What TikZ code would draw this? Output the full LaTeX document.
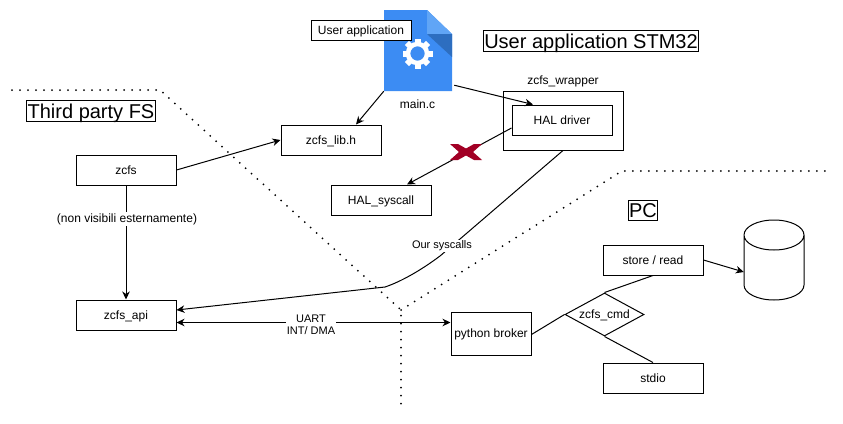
\documentclass[tikz,border=0pt]{standalone}
\usepackage{fontspec}
\setmainfont{Liberation Sans}
\usetikzlibrary{positioning,arrows.meta,shapes.geometric}

\begin{document}
\begin{tikzpicture}[
		x=1pt, y=-1pt,
		% box with a label
		squarednode/.style={rectangle, draw=black, fill=white, line width=1pt, minimum width=100pt, minimum height=30pt, inner sep=0pt, text height=8.5pt, text depth=0pt, font=\fontsize{12}{14}\selectfont},
		% large section title
		titlenode/.style={rectangle, draw=black, line width=1pt, inner xsep=1pt, inner ysep=3pt, text height=14.5pt, text depth=0pt, font=\fontsize{20}{22}\selectfont},
		% white label sitting on a line
		linelabel/.style={fill=white, inner sep=1pt, align=center, font=\fontsize{11}{12}\selectfont},
		plainlabel/.style={inner sep=0pt, font=\fontsize{12}{14}\selectfont},
		connector/.style={line width=1pt},
		arrowline/.style={connector, -{Stealth[length=8pt, width=7.5pt, inset=2.5pt]}},
		border/.style={line width=2pt, line cap=round, dash pattern=on 0pt off 8pt}
	]
	\useasboundingbox (0,0) rectangle (843,423);

	%Borders
	\coordinate (fsleft)  at (12,90);
	\coordinate (fsbend)  at (160,90);
	\coordinate (cross)   at (401,310);
	\coordinate (floor)   at (401,410);
	\coordinate (pcbend)  at (622,171);
	\coordinate (pcright) at (832,171);
	\draw[border] (fsleft) -- (fsbend) -- (cross) -- (floor);
	\draw[border] (cross) -- (pcbend) -- (pcright);

	%Main file
	\node[minimum width=68pt, minimum height=81pt, inner sep=0pt] (mainfile) at (418,50.5) {};
	\fill[fill={rgb,255:red,60;green,140;blue,243}] (384,10) -- (427,10) -- (452,34) -- (452,91) -- (384,91) -- cycle;
	\fill[fill={rgb,255:red,96;green,165;blue,246}] (427,10) -- (452,34) -- (427,34) -- cycle;
	\fill[fill={rgb,255:red,45;green,110;blue,192}] (427,34) -- (452,34) -- (452,57) -- cycle;
	\draw[white, line width=4.5pt] (417.5,53.5) circle (9.5);
	\foreach \tooth in {0,45,...,315}
		\fill[white, rotate around={\tooth:(417.5,53.5)}] (414.5,38.5) rectangle (420.5,44);
	\node[plainlabel]  (mainlabel)  at (417.5,104)                        {main.c};

	%Nodes
	\node[squarednode, minimum height=20pt] (userapp) at (361,30)         {User application};
	\node[titlenode]    (stm)       at (591,41)                           {User application STM32};
	\node[titlenode]    (thirdfs)   at (91,111)                           {Third party FS};
	\node[titlenode]    (pc)        at (643,210.5)                        {PC};
	\node[squarednode]  (zcfs)      at (126,170)                          {zcfs};
	\node[squarednode]  (api)       at (126,315)                          {zcfs\_api};
	\node[squarednode]  (libh)      at (331,140)                          {zcfs\_lib.h};
	\node[squarednode]  (syscall)   at (381,200)                          {HAL\_syscall};
	\node[squarednode, minimum width=120pt, minimum height=59pt] (wrapper) at (563,120.5) {};
	\node[plainlabel]   (wraplabel) at (563,81)                           {zcfs\_wrapper};
	\node[squarednode]  (haldriver) at (562,120)                          {HAL driver};
	\node[squarednode, minimum width=80pt, minimum height=43pt] (broker) at (491,333.5) {python broker};
	\node[squarednode]  (store)     at (653,260)                          {store / read};
	\node[squarednode]  (stdio)     at (653,378)                          {stdio};
	\node[diamond, draw=black, line width=1pt, shape aspect=1.84, minimum width=79pt, minimum height=43pt, inner sep=0pt, text height=8.5pt, text depth=0pt, font=\fontsize{12}{14}\selectfont] (cmd) at (604.5,314.5) {zcfs\_cmd};
	\node[minimum width=60pt, minimum height=80pt, inner sep=0pt] (disk) at (774,260) {};
	\draw[line width=1pt] (744,235) arc[start angle=180, end angle=540, x radius=30, y radius=15]
		-- (744,285) arc[start angle=180, end angle=360, x radius=30, y radius=-15] -- (804,235);

	%Lines
	\draw[arrowline] (mainfile.south west)             -- ([xshift=25pt]libh.north);
	\draw[arrowline] ([shift={(2pt,6pt)}]mainfile.south east) -- ([xshift=-29pt]haldriver.north);
	\draw[arrowline] ([yshift=-8pt]haldriver.west)     -- ([xshift=26pt]syscall.north);
	\draw[arrowline] (zcfs.east)                       -- (libh.west);
	\draw[arrowline] (zcfs.south)                      -- (api.north);
	\coordinate (syscallbend) at (385,287);
	\draw[arrowline] (wrapper.south) -- (460,239) -- (440,256) .. controls (420,271) and (400,282) .. (syscallbend) -- ([yshift=5pt]api.east);
	\draw[connector, {Stealth[length=8pt, width=7.5pt, inset=2.5pt]}-{Stealth[length=8pt, width=7.5pt, inset=2.5pt]}] ([yshift=-7.5pt]api.east) -- ([yshift=-7.5pt]broker.west |- api.east);
	\draw[connector] ([yshift=-1pt]broker.east) -- (cmd.west);
	\draw[connector] (cmd.north) -- (store.south);
	\draw[connector] (cmd.south) -- (stdio.north);
	\draw[arrowline] (store.east) -- ([yshift=-12pt]disk.west);

	%Labels on the lines
	\node[linelabel, font=\fontsize{12}{14}\selectfont] (hiddenlabel) at (127,219) {(non visibili esternamente)};
	\node[linelabel] (syscalllabel) at (442,246)  {Our syscalls};
	\node[linelabel] (uartlabel)   at (311,324.5) {UART\\INT/ DMA};

	% red cross on the forbidden call
	\coordinate (forbidden) at (466,152);
	\fill[fill={rgb,255:red,162;green,0;blue,37}] (forbidden) ++(-16,-8) -- ++(8,0) -- ++(8,4.5) -- ++(8,-4.5) -- ++(8,0) -- ++(-9,8) -- ++(9,8) -- ++(-8,0) -- ++(-8,-4.5) -- ++(-8,4.5) -- ++(-8,0) -- ++(9,-8) -- cycle;
\end{tikzpicture}
\end{document}
